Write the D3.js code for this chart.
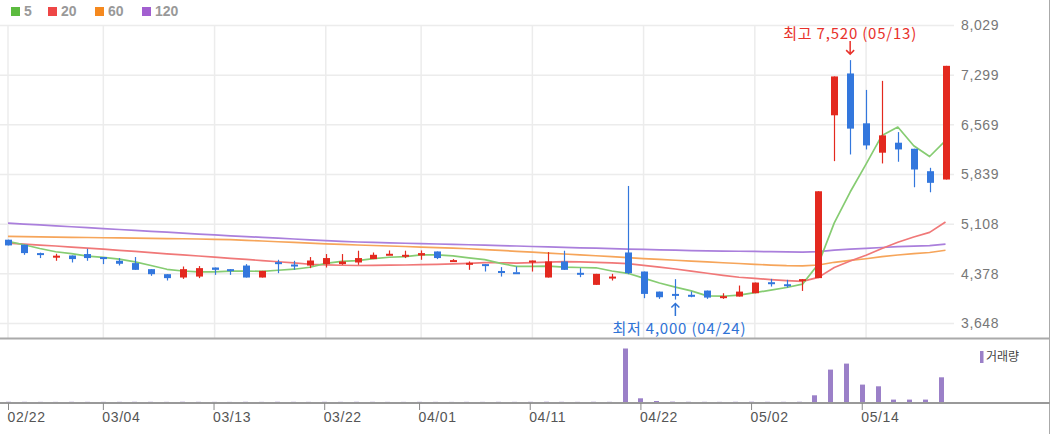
<!DOCTYPE html>
<html><head><meta charset="utf-8">
<script src="https://cdn.jsdelivr.net/npm/d3@7"></script>
<style>
body{margin:0;background:#fff;}
svg{display:block;}
</style>
</head><body>
<svg id="c" width="1050" height="434"></svg>
<script>
// ---- data ----
const dates = ["02/22","02/23","02/26","02/27","02/28","02/29","03/04","03/05","03/06","03/07","03/08","03/11","03/12","03/13","03/14","03/15","03/18","03/19","03/20","03/21","03/22","03/25","03/26","03/27","03/28","03/29","04/01","04/02","04/03","04/04","04/05","04/08","04/09","04/11","04/12","04/15","04/16","04/17","04/18","04/19","04/22","04/23","04/24","04/25","04/26","04/29","04/30","05/02","05/03","05/07","05/08","05/09","05/10","05/13","05/14","05/16","05/17","05/20","05/21","05/22"];
const open  = [4880,4806,4683,4640,4648,4669,4625,4570,4536,4447,4373,4324,4338,4471,4447,4500,4324,4550,4515,4500,4521,4521,4545,4595,4670,4655,4648,4707,4575,4535,4521,4420,4402,4570,4324,4560,4393,4216,4334,4692,4412,4117,4083,4070,4132,4040,4044,4093,4255,4225,4280,4315,6709,7324,6591,6159,6306,6217,5887,5765];
const high  = [4880,4806,4690,4673,4648,4747,4625,4610,4625,4447,4373,4486,4492,4471,4447,4521,4422,4585,4570,4625,4669,4669,4718,4692,4722,4718,4722,4707,4595,4560,4521,4477,4486,4574,4698,4718,4462,4378,4378,5670,4412,4117,4300,4117,4132,4093,4206,4250,4304,4290,4300,5592,7280,7520,7082,7215,6462,6217,5937,7436];
const low   = [4796,4658,4610,4570,4545,4570,4521,4501,4437,4349,4280,4304,4315,4363,4363,4324,4324,4388,4437,4462,4471,4511,4511,4595,4670,4610,4585,4595,4575,4437,4412,4338,4398,4412,4324,4437,4329,4216,4280,4373,4020,4010,4000,4034,4010,4010,4044,4093,4191,4176,4127,4315,6035,6133,6207,6001,6026,5651,5577,5765];
const close = [4796,4683,4658,4645,4595,4610,4595,4526,4437,4373,4315,4447,4462,4437,4427,4324,4422,4545,4511,4574,4610,4560,4610,4658,4673,4658,4683,4610,4580,4540,4515,4412,4398,4574,4560,4437,4388,4378,4338,4388,4083,4034,4070,4060,4029,4050,4117,4250,4250,4220,4300,5592,7280,6513,6266,6414,6207,5912,5716,7436];
const volume = [22000,18000,15000,12000,20000,16000,14000,17000,21000,19000,15000,24000,18000,13000,11000,20000,14000,23000,17000,15000,19000,16000,21000,18000,14000,12000,17000,15000,11000,16000,13000,18000,14000,20000,26000,19000,15000,22000,17000,5350000,370000,100000,35000,22000,18000,15000,21000,28000,19000,17000,24000,670000,3240000,3840000,1740000,1570000,240000,240000,240000,2470000];
const ma5   = [4855,4806,4750,4703,4675,4638,4621,4594,4553,4500,4445,4420,4407,4407,4418,4419,4414,4431,4446,4475,4532,4560,4573,4602,4622,4632,4656,4656,4641,4614,4586,4531,4489,4488,4492,4476,4471,4467,4420,4386,4315,4244,4183,4127,4055,4049,4065,4101,4139,4177,4227,4522,5128,5581,5990,6413,6536,6262,6103,6337];
const ma20  = [4830,4816,4801,4787,4770,4756,4740,4724,4707,4690,4672,4656,4640,4623,4606,4590,4573,4556,4540,4519,4510,4504,4501,4502,4506,4508,4513,4517,4524,4532,4542,4541,4537,4544,4551,4557,4555,4546,4538,4529,4502,4476,4449,4419,4387,4356,4328,4310,4294,4278,4267,4326,4470,4567,4652,4751,4842,4919,4988,5140];
const ma60  = [4928,4925,4922,4918,4915,4912,4909,4906,4903,4900,4897,4894,4890,4886,4880,4870,4861,4850,4840,4830,4820,4810,4802,4795,4787,4780,4772,4764,4756,4747,4735,4722,4709,4696,4683,4670,4657,4644,4630,4617,4603,4590,4578,4566,4553,4541,4530,4518,4507,4498,4496,4508,4548,4575,4600,4630,4655,4675,4692,4725];
const ma120 = [5123,5110,5097,5083,5070,5057,5043,5030,5017,5003,4990,4977,4963,4950,4937,4926,4914,4902,4890,4878,4866,4855,4846,4840,4834,4828,4823,4817,4811,4806,4800,4793,4787,4780,4774,4767,4761,4755,4748,4742,4737,4731,4726,4720,4716,4713,4710,4707,4704,4701,4698,4705,4726,4740,4752,4765,4777,4786,4793,4815];
const priceTicks = [3648,4378,5108,5839,6569,7299,8029];
const dateTicks = ["02/22","03/04","03/13","03/22","04/01","04/11","04/22","05/02","05/14"];
const maNames = ["5","20","60","120"];
const maSeries = [ma5, ma20, ma60, ma120];

// ---- styles ----
const UP = "#e3291f", DOWN = "#3377dd";
const legendColors = ["#5cbb3f","#ee4646","#f5891e","#a25fd0"];
const lineColors = ["#86cc72","#f07878","#f6a55a","#aa7fdc"];
const GRID = "#ececec";

const svg = d3.select("#c");
const idx = d3.range(dates.length);
const x  = d3.scalePoint().domain(idx).range([8, 945.5]);
const xv = d3.scalePoint().domain(idx).range([8, 940.8]);
const y  = d3.scaleLinear().domain([3648, 8029]).range([323.5, 25.5]);
const yv = d3.scaleLinear().domain([0, 6200000]).range([402, 340]);
const tickIdx = dateTicks.map(d => dates.indexOf(d));

// grid
svg.append("g").selectAll("line").data(priceTicks).join("line")
  .attr("x1", 0).attr("x2", 954).attr("y1", d => y(d)).attr("y2", d => y(d))
  .attr("stroke", GRID).attr("stroke-width", 1.5);
svg.append("g").selectAll("line").data(tickIdx).join("line")
  .attr("x1", d => x(d)).attr("x2", d => x(d)).attr("y1", 25).attr("y2", 338)
  .attr("stroke", GRID).attr("stroke-width", 1.5);

// price axis labels
const ya = svg.append("g").attr("transform", "translate(961,0)")
  .call(d3.axisRight(y).tickValues(priceTicks).tickFormat(d3.format(",")).tickSize(0).tickPadding(0));
ya.select(".domain").remove();
ya.selectAll("text").attr("fill", "#777").attr("font-family", "Liberation Sans, Arial, sans-serif")
  .attr("font-size", 14).attr("letter-spacing", 0.6);

// moving averages
const line = arr => d3.line().x((d, i) => x(i)).y(d => y(d))(arr);
[3,2,1,0].forEach(k => {
  svg.append("path").attr("d", line(maSeries[k])).attr("fill", "none")
    .attr("stroke", lineColors[k]).attr("stroke-width", 1.7).attr("stroke-linejoin", "round");
});

// candles
const cg = svg.append("g");
cg.selectAll("line").data(idx).join("line")
  .attr("x1", i => Math.round(x(i)) + 0.5).attr("x2", i => Math.round(x(i)) + 0.5)
  .attr("y1", i => y(high[i])).attr("y2", i => y(low[i]))
  .attr("stroke", i => close[i] >= open[i] ? UP : DOWN).attr("stroke-width", 1.2);
cg.selectAll("rect").data(idx).join("rect")
  .attr("x", i => Math.round(x(i)) - 3)
  .attr("width", 7)
  .attr("y", i => y(Math.max(open[i], close[i])))
  .attr("height", i => Math.max(2, Math.abs(y(open[i]) - y(close[i]))))
  .attr("fill", i => close[i] >= open[i] ? UP : DOWN);

// high / low annotations
const iHi = d3.maxIndex(high), iLo = d3.minIndex(low);
const fmt = d3.format(",");
svg.append("text").attr("x", x(iHi)).attr("y", 38.5).attr("text-anchor", "middle")
  .attr("fill", "#e8322b").attr("font-size", 15).attr("letter-spacing", 0.8).attr("font-family", "Noto Sans CJK KR, sans-serif")
  .text(`최고 ${fmt(high[iHi])} (${dates[iHi]})`);
svg.append("path")
  .attr("d", `M${x(iHi)},41 V${y(high[iHi]) - 6} M${x(iHi) - 4},${y(high[iHi]) - 10} L${x(iHi)},${y(high[iHi]) - 6} L${x(iHi) + 4},${y(high[iHi]) - 10}`)
  .attr("stroke", "#e8322b").attr("stroke-width", 1.5).attr("fill", "none");
svg.append("text").attr("x", x(iLo) + 4).attr("y", 333.5).attr("text-anchor", "middle")
  .attr("fill", "#2f73d6").attr("font-size", 15).attr("letter-spacing", 0.8).attr("font-family", "Noto Sans CJK KR, sans-serif")
  .text(`최저 ${fmt(low[iLo])} (${dates[iLo]})`);
svg.append("path")
  .attr("d", `M${x(iLo)},316 V${y(low[iLo]) + 4} M${x(iLo) - 4},${y(low[iLo]) + 8} L${x(iLo)},${y(low[iLo]) + 4} L${x(iLo) + 4},${y(low[iLo]) + 8}`)
  .attr("stroke", "#2f73d6").attr("stroke-width", 1.5).attr("fill", "none");

// panel separators
svg.append("line").attr("x1", 0).attr("x2", 1050).attr("y1", 338.5).attr("y2", 338.5).attr("stroke", "#aaa").attr("stroke-width", 2);
svg.append("line").attr("x1", 1049.5).attr("x2", 1049.5).attr("y1", 0).attr("y2", 434).attr("stroke", "#aaa").attr("stroke-width", 1);

// volume bars
svg.append("g").selectAll("rect").data(idx).join("rect")
  .attr("x", i => Math.round(xv(i)) - 2).attr("width", 5)
  .attr("y", i => yv(volume[i])).attr("height", i => yv(0) - yv(volume[i]))
  .attr("fill", "#9b80c8");
svg.append("rect").attr("x", 980).attr("y", 351).attr("width", 3.5).attr("height", 12).attr("fill", "#9b80c8");
svg.append("text").attr("x", 986).attr("y", 361).attr("fill", "#444").attr("font-size", 12)
  .attr("font-family", "Noto Sans CJK KR, sans-serif").text("거래량");

// bottom axis
svg.append("line").attr("x1", 0).attr("x2", 1050).attr("y1", 403).attr("y2", 403).attr("stroke", "#999").attr("stroke-width", 2);
const xa = svg.append("g").attr("transform", "translate(0,403)")
  .call(d3.axisBottom(xv).tickValues(tickIdx).tickFormat(i => dates[i]).tickSize(7).tickPadding(3));
xa.select(".domain").remove();
xa.selectAll(".tick line").attr("stroke", "#888");
xa.selectAll("text").attr("text-anchor", "start").attr("x", -1).attr("y", 9)
  .attr("fill", "#555").attr("font-family", "Liberation Sans, Arial, sans-serif").attr("font-size", 14).attr("letter-spacing", 0.6);

// legend
const lg = svg.append("g");
const lx = [11, 48, 95, 142];
maNames.forEach((n, k) => {
  lg.append("rect").attr("x", lx[k]).attr("y", 7).attr("width", 9).attr("height", 9).attr("fill", legendColors[k]);
  lg.append("text").attr("x", lx[k] + 13).attr("y", 16).attr("fill", "#999").attr("font-weight", "bold")
    .attr("font-size", 14).attr("font-family", "Liberation Sans, Arial, sans-serif").text(n);
});
</script>
</body></html>
